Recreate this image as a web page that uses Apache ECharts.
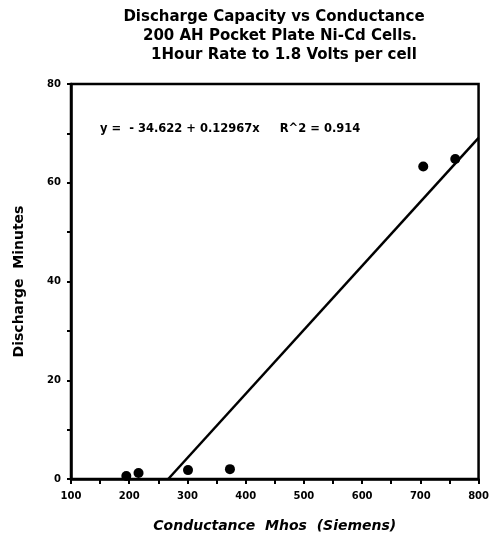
<!DOCTYPE html>
<html><head><meta charset="utf-8">
<script src="https://cdn.jsdelivr.net/npm/echarts@6/dist/echarts.min.js"></script>
<style>html,body{margin:0;padding:0;background:#fff}#c{width:492px;height:539px}</style>
</head><body><div id="c"></div>
<script>
var titleLines = ['Discharge Capacity vs Conductance', '200 AH Pocket Plate Ni-Cd Cells.', '1Hour Rate to 1.8 Volts per cell'];
var equationText = 'y =  - 34.622 + 0.12967x     R^2 = 0.914';
var xName = 'Conductance  Mhos  (Siemens)';
var yName = 'Discharge  Minutes';
var conductance = [195, 216, 301, 373, 705, 760];
var minutes = [0.6, 1.2, 1.8, 2.0, 63.3, 64.8];
var fitX = [267, 800];
var fitY = [0, 69.1];

var pts = conductance.map(function (x, i) { return [x, minutes[i]]; });
var fit = fitX.map(function (x, i) { return [x, fitY[i]]; });
var F = 'DejaVu Sans';
var chart = echarts.init(document.getElementById('c'), null, {renderer: 'canvas'});
chart.setOption({
  backgroundColor: '#fff',
  animation: false,
  title: [
    {text: titleLines[0], left: 269, top: 5, textAlign: 'center', textStyle: {fontFamily: F, fontWeight: 'bold', fontSize: 15, color: '#000'}},
    {text: titleLines[1], left: 275, top: 24, textAlign: 'center', textStyle: {fontFamily: F, fontWeight: 'bold', fontSize: 15, color: '#000'}},
    {text: titleLines[2], left: 279, top: 43, textAlign: 'center', textStyle: {fontFamily: F, fontWeight: 'bold', fontSize: 15, color: '#000'}},
    {text: equationText, left: 95, top: 118, textStyle: {fontFamily: F, fontWeight: 'bold', fontSize: 11.5, color: '#000'}}
  ],
  grid: {left: 71, right: 10, top: 84, bottom: 60, show: true, borderColor: '#000', borderWidth: 2.5, backgroundColor: 'transparent'},
  xAxis: {
    type: 'value', min: 100, max: 800, interval: 50,
    name: xName, nameLocation: 'middle', nameGap: 40,
    nameTextStyle: {fontFamily: F, fontWeight: 'bold', fontStyle: 'italic', fontSize: 14, color: '#000'},
    axisLine: {lineStyle: {color: '#000', width: 2.5}},
    axisTick: {show: true, length: 5, lineStyle: {color: '#000', width: 2}},
    axisLabel: {fontFamily: F, fontWeight: 'bold', fontSize: 10, color: '#000', margin: 12,
      formatter: function (v) { return v % 100 === 0 ? String(v) : ''; }},
    splitLine: {show: false}
  },
  yAxis: {
    type: 'value', min: 0, max: 80, interval: 10,
    name: yName, nameLocation: 'middle', nameGap: 45, nameRotate: 90,
    nameTextStyle: {fontFamily: F, fontWeight: 'bold', fontSize: 14, color: '#000'},
    axisLine: {lineStyle: {color: '#000', width: 2.5}},
    axisTick: {show: true, length: 4, lineStyle: {color: '#000', width: 2}},
    axisLabel: {fontFamily: F, fontWeight: 'bold', fontSize: 10, color: '#000', margin: 10,
      formatter: function (v) { return v % 20 === 0 ? String(v) : ''; }},
    splitLine: {show: false}
  },
  series: [
    {type: 'line', data: fit, showSymbol: false, symbol: 'none', lineStyle: {color: '#000', width: 2.5}, z: 3},
    {type: 'scatter', data: pts, symbol: 'circle', symbolSize: 10, itemStyle: {color: '#000', opacity: 1}, z: 4}
  ]
});
</script></body></html>
